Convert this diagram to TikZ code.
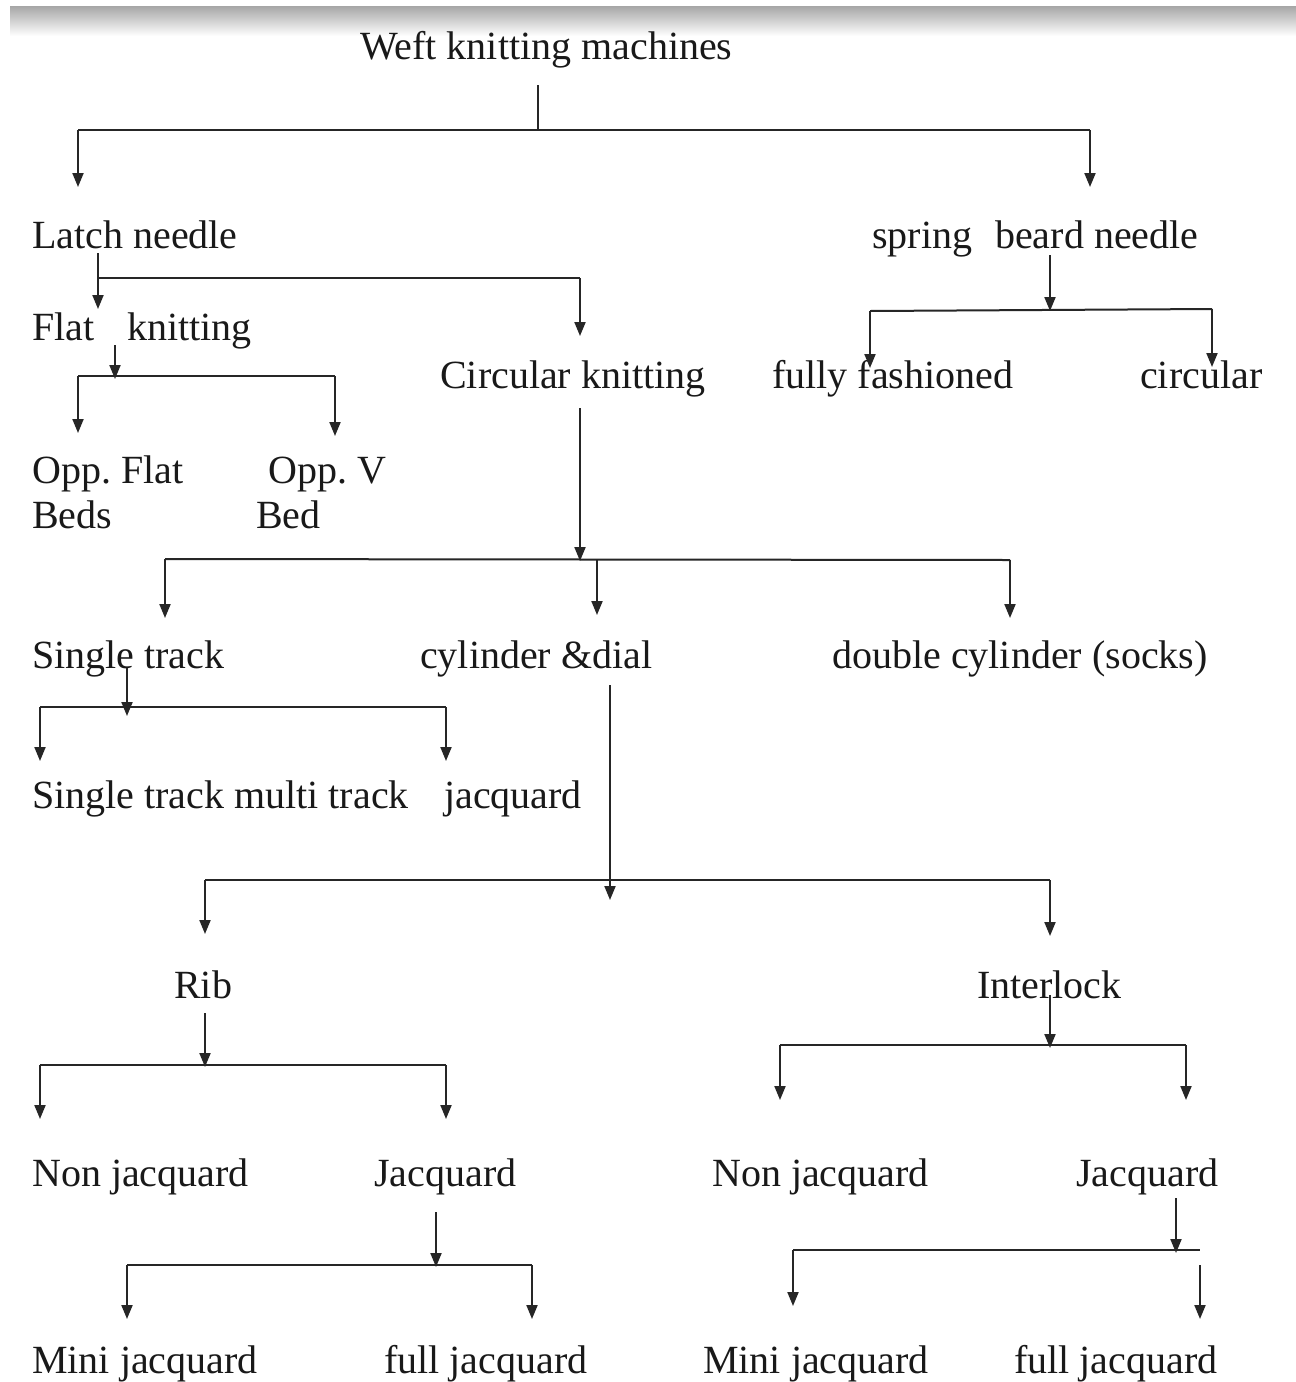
\documentclass[tikz,border=0pt]{standalone}
\usepackage{fontspec}
\setmainfont{Liberation Serif}
\usetikzlibrary{arrows.meta}
\begin{document}
\begin{tikzpicture}[x=1pt,y=-1pt,
  lbl/.style={font=\fontsize{40}{45}\selectfont, inner sep=0pt, anchor=base west, text=black!90},
  ln/.style={line width=2pt, draw=black!85},
  arr/.style={ln, -{Triangle[length=14pt,width=11pt]}}]
\useasboundingbox (0,0) rectangle (1296,1382);
\fill[white] (0,0) rectangle (1296,1382);
\shade[top color=black!35, bottom color=white] (10,6) rectangle (1296,36);
% labels
\node[lbl] (title) at (360,59) {Weft knitting machines};
\node[lbl] (latch) at (32,248) {Latch needle};
\node[lbl] (spring) at (872,248) {spring\hspace*{23pt}beard needle};
\node[lbl] (flat) at (32,340) {Flat\hspace*{33pt}knitting};
\node[lbl] (circ) at (440,388) {Circular knitting};
\node[lbl] (fully) at (772,388) {fully fashioned};
\node[lbl] (circular) at (1140,388) {circular};
\node[lbl, align=left] (oppflat) at (32,528) {Opp.\ Flat\\Beds};
\node[lbl, align=left] (oppv) at (256,528) {\hspace*{12pt}Opp.\ V\\Bed};
\node[lbl] (single) at (32,668) {Single track};
\node[lbl] (cyl) at (420,668) {cylinder \&dial};
\node[lbl] (double) at (832,668) {double cylinder (socks)};
\node[lbl] (stmt) at (32,808) {Single track multi track};
\node[lbl] (jac1) at (444,808) {jacquard};
\node[lbl] (rib) at (174,998) {Rib};
\node[lbl] (inter) at (977,998) {Interlock};
\node[lbl] (nonjr) at (32,1186) {Non jacquard};
\node[lbl] (jacr) at (374,1186) {Jacquard};
\node[lbl] (nonji) at (712,1186) {Non jacquard};
\node[lbl] (jaci) at (1076,1186) {Jacquard};
\node[lbl] (minir) at (32,1373) {Mini jacquard};
\node[lbl] (fullr) at (384,1373) {full jacquard};
\node[lbl] (minii) at (703,1373) {Mini jacquard};
\node[lbl] (fulli) at (1014,1373) {full jacquard};
% coordinates
\coordinate (a0) at (538,85);   \coordinate (a1) at (538,130);
\coordinate (aL) at (78,130);   \coordinate (aR) at (1090,130);
\coordinate (aLt) at (78,187);  \coordinate (aRt) at (1090,187);
\coordinate (b0) at (98,253);   \coordinate (bL) at (98,278);  \coordinate (bLt) at (98,309);
\coordinate (bR) at (580,278);  \coordinate (bRt) at (580,336);
\coordinate (c0) at (1050,255); \coordinate (c1) at (1050,311);
\coordinate (cL) at (870,311);  \coordinate (cR) at (1212,309);
\coordinate (cLt) at (870,368); \coordinate (cRt) at (1212,367);
\coordinate (d0) at (115,345);  \coordinate (d1) at (115,379);
\coordinate (dL) at (78,376);   \coordinate (dR) at (335,376);
\coordinate (dLt) at (78,433);  \coordinate (dRt) at (335,436);
\coordinate (e0) at (580,408);  \coordinate (e1) at (580,561);
\coordinate (eL) at (165,559);  \coordinate (eM) at (597,559);  \coordinate (eR) at (1010,560);
\coordinate (eLt) at (165,618); \coordinate (eMt) at (597,615); \coordinate (eRt) at (1010,618);
\coordinate (f0) at (127,668);  \coordinate (f1) at (127,716);
\coordinate (fL) at (40,707);   \coordinate (fR) at (446,707);
\coordinate (fLt) at (40,761);  \coordinate (fRt) at (446,761);
\coordinate (g0) at (610,685);  \coordinate (g1) at (610,900);
\coordinate (gL) at (205,880);  \coordinate (gR) at (1050,880);
\coordinate (gLt) at (205,934); \coordinate (gRt) at (1050,936);
\coordinate (h0) at (205,1013); \coordinate (h1) at (205,1067);
\coordinate (hL) at (40,1065);  \coordinate (hR) at (446,1065);
\coordinate (hLt) at (40,1119); \coordinate (hRt) at (446,1119);
\coordinate (i0) at (1050,995); \coordinate (i1) at (1050,1048);
\coordinate (iL) at (780,1045); \coordinate (iR) at (1186,1045);
\coordinate (iLt) at (780,1100);\coordinate (iRt) at (1186,1100);
\coordinate (j0) at (436,1212); \coordinate (j1) at (436,1267);
\coordinate (jL) at (127,1265); \coordinate (jR) at (532,1265);
\coordinate (jLt) at (127,1319);\coordinate (jRt) at (532,1319);
\coordinate (k0) at (1176,1198);\coordinate (k1) at (1176,1253);
\coordinate (kL) at (793,1250); \coordinate (kR) at (1200,1250);
\coordinate (kLt) at (793,1306);
\coordinate (m0) at (1200,1265);\coordinate (m1) at (1200,1319);
% connectors
\draw[ln] (a0) -- (a1);
\draw[ln] (aL) -- (aR);
\draw[arr] (aL) -- (aLt);
\draw[arr] (aR) -- (aRt);
\draw[arr] (b0) -- (bLt);
\draw[ln] (bL) -- (bR);
\draw[arr] (bR) -- (bRt);
\draw[arr] (c0) -- (c1);
\draw[ln] (cL) -- (cR);
\draw[arr] (cL) -- (cLt);
\draw[arr] (cR) -- (cRt);
\draw[arr] (d0) -- (d1);
\draw[ln] (dL) -- (dR);
\draw[arr] (dL) -- (dLt);
\draw[arr] (dR) -- (dRt);
\draw[arr] (e0) -- (e1);
\draw[ln] (eL) -- (eR);
\draw[arr] (eL) -- (eLt);
\draw[arr] (eM) -- (eMt);
\draw[arr] (eR) -- (eRt);
\draw[arr] (f0) -- (f1);
\draw[ln] (fL) -- (fR);
\draw[arr] (fL) -- (fLt);
\draw[arr] (fR) -- (fRt);
\draw[arr] (g0) -- (g1);
\draw[ln] (gL) -- (gR);
\draw[arr] (gL) -- (gLt);
\draw[arr] (gR) -- (gRt);
\draw[arr] (h0) -- (h1);
\draw[ln] (hL) -- (hR);
\draw[arr] (hL) -- (hLt);
\draw[arr] (hR) -- (hRt);
\draw[arr] (i0) -- (i1);
\draw[ln] (iL) -- (iR);
\draw[arr] (iL) -- (iLt);
\draw[arr] (iR) -- (iRt);
\draw[arr] (j0) -- (j1);
\draw[ln] (jL) -- (jR);
\draw[arr] (jL) -- (jLt);
\draw[arr] (jR) -- (jRt);
\draw[arr] (k0) -- (k1);
\draw[ln] (kL) -- (kR);
\draw[arr] (kL) -- (kLt);
\draw[arr] (m0) -- (m1);
\end{tikzpicture}
\end{document}
